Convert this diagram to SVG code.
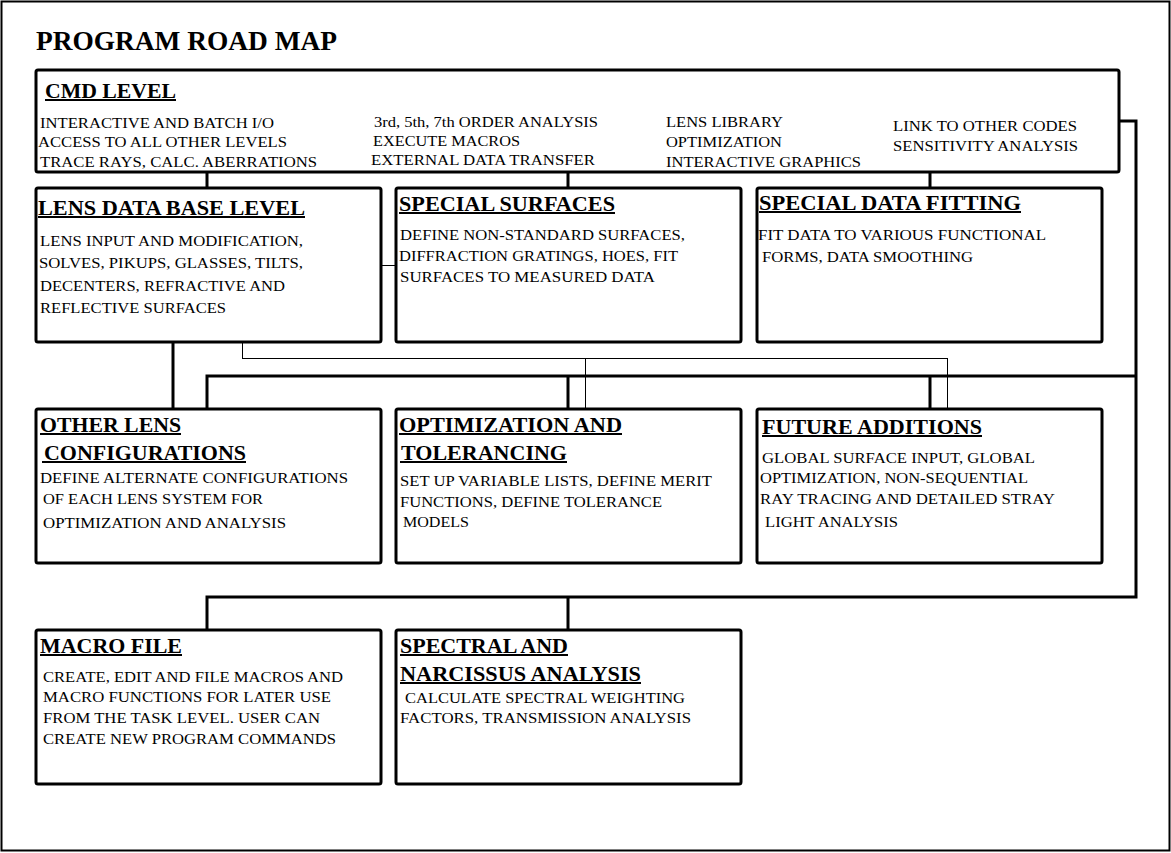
<svg xmlns="http://www.w3.org/2000/svg" width="1171" height="853" viewBox="0 0 1171 853">
<style>
.box{fill:#fff;stroke:#000;stroke-width:3}
.t{font-family:"Liberation Serif","Times New Roman",serif;font-weight:bold;font-size:20px;fill:#000}
.b{font-family:"Liberation Serif","Times New Roman",serif;font-size:15px;fill:#000}
.ul{stroke:#000;stroke-width:2}
.thick{stroke:#000;stroke-width:3;fill:none}
.thin{stroke:#000;stroke-width:1;fill:none;shape-rendering:crispEdges}
</style>
<rect x="0" y="0" width="1171" height="853" fill="#fff"/>
<rect x="1.5" y="1.5" width="1168" height="849" fill="none" stroke="#000" stroke-width="2"/>
<text x="36" y="50" font-family="Liberation Serif, Times New Roman, serif" font-weight="bold" font-size="27" textLength="301" lengthAdjust="spacingAndGlyphs">PROGRAM ROAD MAP</text>

<g id="connectors">
<path class="thick" d="M207 172V188M568 172V188M930 172V188"/>
<path class="thick" d="M1119 121H1136V597H207V630M568 597V630"/>
<path class="thick" d="M207 409V376H1136M568 376V409M930 376V409"/>
<path class="thick" d="M173 342V409"/>
<path class="thin" d="M242.5 342V358.5H947.5V409M585.5 358.5V409"/>
<path class="thin" d="M381 265.5H396"/>
</g>

<g id="cmd-level">
<rect class="box" x="36" y="70" width="1083" height="102" rx="2"/>
<text class="t" x="45" y="98" textLength="131" lengthAdjust="spacingAndGlyphs">CMD LEVEL</text>
<line class="ul" x1="45" y1="100" x2="176" y2="100"/>
<text class="b" x="40" y="128" textLength="234" lengthAdjust="spacingAndGlyphs">INTERACTIVE AND BATCH I/O</text>
<text class="b" x="38" y="147" textLength="249" lengthAdjust="spacingAndGlyphs">ACCESS TO ALL OTHER LEVELS</text>
<text class="b" x="40" y="167" textLength="277" lengthAdjust="spacingAndGlyphs">TRACE RAYS, CALC. ABERRATIONS</text>
<text class="b" x="374" y="127" textLength="224" lengthAdjust="spacingAndGlyphs">3rd, 5th, 7th ORDER ANALYSIS</text>
<text class="b" x="373" y="146" textLength="147" lengthAdjust="spacingAndGlyphs">EXECUTE MACROS</text>
<text class="b" x="371" y="165" textLength="224" lengthAdjust="spacingAndGlyphs">EXTERNAL DATA TRANSFER</text>
<text class="b" x="666" y="127" textLength="117" lengthAdjust="spacingAndGlyphs">LENS LIBRARY</text>
<text class="b" x="666" y="147" textLength="116" lengthAdjust="spacingAndGlyphs">OPTIMIZATION</text>
<text class="b" x="666" y="167" textLength="195" lengthAdjust="spacingAndGlyphs">INTERACTIVE GRAPHICS</text>
<text class="b" x="893" y="131" textLength="184" lengthAdjust="spacingAndGlyphs">LINK TO OTHER CODES</text>
<text class="b" x="893" y="151" textLength="185" lengthAdjust="spacingAndGlyphs">SENSITIVITY ANALYSIS</text>
</g>

<g id="lens-data-base">
<rect class="box" x="36" y="188" width="345" height="154" rx="2"/>
<text class="t" x="38" y="215" textLength="267" lengthAdjust="spacingAndGlyphs">LENS DATA BASE LEVEL</text>
<line class="ul" x1="38" y1="217" x2="305" y2="217"/>
<text class="b" x="40" y="246" textLength="263" lengthAdjust="spacingAndGlyphs">LENS INPUT AND MODIFICATION,</text>
<text class="b" x="39" y="268" textLength="264" lengthAdjust="spacingAndGlyphs">SOLVES, PIKUPS, GLASSES, TILTS,</text>
<text class="b" x="40" y="291" textLength="245" lengthAdjust="spacingAndGlyphs">DECENTERS, REFRACTIVE AND</text>
<text class="b" x="40" y="313" textLength="186" lengthAdjust="spacingAndGlyphs">REFLECTIVE SURFACES</text>
</g>

<g id="special-surfaces">
<rect class="box" x="396" y="188" width="345" height="154" rx="2"/>
<text class="t" x="399" y="211" textLength="216" lengthAdjust="spacingAndGlyphs">SPECIAL SURFACES</text>
<line class="ul" x1="399" y1="213" x2="615" y2="213"/>
<text class="b" x="400" y="240" textLength="285" lengthAdjust="spacingAndGlyphs">DEFINE NON-STANDARD SURFACES,</text>
<text class="b" x="399" y="261" textLength="279" lengthAdjust="spacingAndGlyphs">DIFFRACTION GRATINGS, HOES, FIT</text>
<text class="b" x="400" y="282" textLength="255" lengthAdjust="spacingAndGlyphs">SURFACES TO MEASURED DATA</text>
</g>

<g id="special-data-fitting">
<rect class="box" x="757" y="188" width="345" height="154" rx="2"/>
<text class="t" x="759" y="210" textLength="262" lengthAdjust="spacingAndGlyphs">SPECIAL DATA FITTING</text>
<line class="ul" x1="759" y1="212" x2="1021" y2="212"/>
<text class="b" x="758" y="240" textLength="288" lengthAdjust="spacingAndGlyphs">FIT DATA TO VARIOUS FUNCTIONAL</text>
<text class="b" x="762" y="262" textLength="211" lengthAdjust="spacingAndGlyphs">FORMS, DATA SMOOTHING</text>
</g>

<g id="other-lens-configurations">
<rect class="box" x="36" y="409" width="345" height="154" rx="2"/>
<text class="t" x="40" y="432" textLength="141" lengthAdjust="spacingAndGlyphs">OTHER LENS</text>
<line class="ul" x1="40" y1="434" x2="181" y2="434"/>
<text class="t" x="44" y="460" textLength="202" lengthAdjust="spacingAndGlyphs">CONFIGURATIONS</text>
<line class="ul" x1="42" y1="462" x2="246" y2="462"/>
<text class="b" x="40" y="483" textLength="308" lengthAdjust="spacingAndGlyphs">DEFINE ALTERNATE CONFIGURATIONS</text>
<text class="b" x="43" y="504" textLength="220" lengthAdjust="spacingAndGlyphs">OF EACH LENS SYSTEM FOR</text>
<text class="b" x="43" y="528" textLength="243" lengthAdjust="spacingAndGlyphs">OPTIMIZATION AND ANALYSIS</text>
</g>

<g id="optimization-tolerancing">
<rect class="box" x="396" y="409" width="345" height="154" rx="2"/>
<text class="t" x="399" y="432" textLength="223" lengthAdjust="spacingAndGlyphs">OPTIMIZATION AND</text>
<line class="ul" x1="399" y1="434" x2="622" y2="434"/>
<text class="t" x="401" y="460" textLength="166" lengthAdjust="spacingAndGlyphs">TOLERANCING</text>
<line class="ul" x1="400" y1="462" x2="567" y2="462"/>
<text class="b" x="400" y="486" textLength="312" lengthAdjust="spacingAndGlyphs">SET UP VARIABLE LISTS, DEFINE MERIT</text>
<text class="b" x="400" y="507" textLength="262" lengthAdjust="spacingAndGlyphs">FUNCTIONS, DEFINE TOLERANCE</text>
<text class="b" x="403" y="527" textLength="66" lengthAdjust="spacingAndGlyphs">MODELS</text>
</g>

<g id="future-additions">
<rect class="box" x="757" y="409" width="345" height="154" rx="2"/>
<text class="t" x="762" y="434" textLength="220" lengthAdjust="spacingAndGlyphs">FUTURE ADDITIONS</text>
<line class="ul" x1="762" y1="436" x2="982" y2="436"/>
<text class="b" x="762" y="463" textLength="273" lengthAdjust="spacingAndGlyphs">GLOBAL SURFACE INPUT, GLOBAL</text>
<text class="b" x="760" y="483" textLength="268" lengthAdjust="spacingAndGlyphs">OPTIMIZATION, NON-SEQUENTIAL</text>
<text class="b" x="760" y="504" textLength="295" lengthAdjust="spacingAndGlyphs">RAY TRACING AND DETAILED STRAY</text>
<text class="b" x="765" y="527" textLength="133" lengthAdjust="spacingAndGlyphs">LIGHT ANALYSIS</text>
</g>

<g id="macro-file">
<rect class="box" x="36" y="630" width="345" height="154" rx="2"/>
<text class="t" x="40" y="653" textLength="142" lengthAdjust="spacingAndGlyphs">MACRO FILE</text>
<line class="ul" x1="40" y1="655" x2="182" y2="655"/>
<text class="b" x="43" y="682" textLength="300" lengthAdjust="spacingAndGlyphs">CREATE, EDIT AND FILE MACROS AND</text>
<text class="b" x="43" y="702" textLength="288" lengthAdjust="spacingAndGlyphs">MACRO FUNCTIONS FOR LATER USE</text>
<text class="b" x="43" y="723" textLength="277" lengthAdjust="spacingAndGlyphs">FROM THE TASK LEVEL. USER CAN</text>
<text class="b" x="43" y="744" textLength="293" lengthAdjust="spacingAndGlyphs">CREATE NEW PROGRAM COMMANDS</text>
</g>

<g id="spectral-narcissus">
<rect class="box" x="396" y="630" width="345" height="154" rx="2"/>
<text class="t" x="400" y="653" textLength="168" lengthAdjust="spacingAndGlyphs">SPECTRAL AND</text>
<line class="ul" x1="400" y1="655" x2="568" y2="655"/>
<text class="t" x="400" y="681" textLength="241" lengthAdjust="spacingAndGlyphs">NARCISSUS ANALYSIS</text>
<line class="ul" x1="400" y1="683" x2="641" y2="683"/>
<text class="b" x="405" y="703" textLength="280" lengthAdjust="spacingAndGlyphs">CALCULATE SPECTRAL WEIGHTING</text>
<text class="b" x="400" y="723" textLength="291" lengthAdjust="spacingAndGlyphs">FACTORS, TRANSMISSION ANALYSIS</text>
</g>
</svg>
